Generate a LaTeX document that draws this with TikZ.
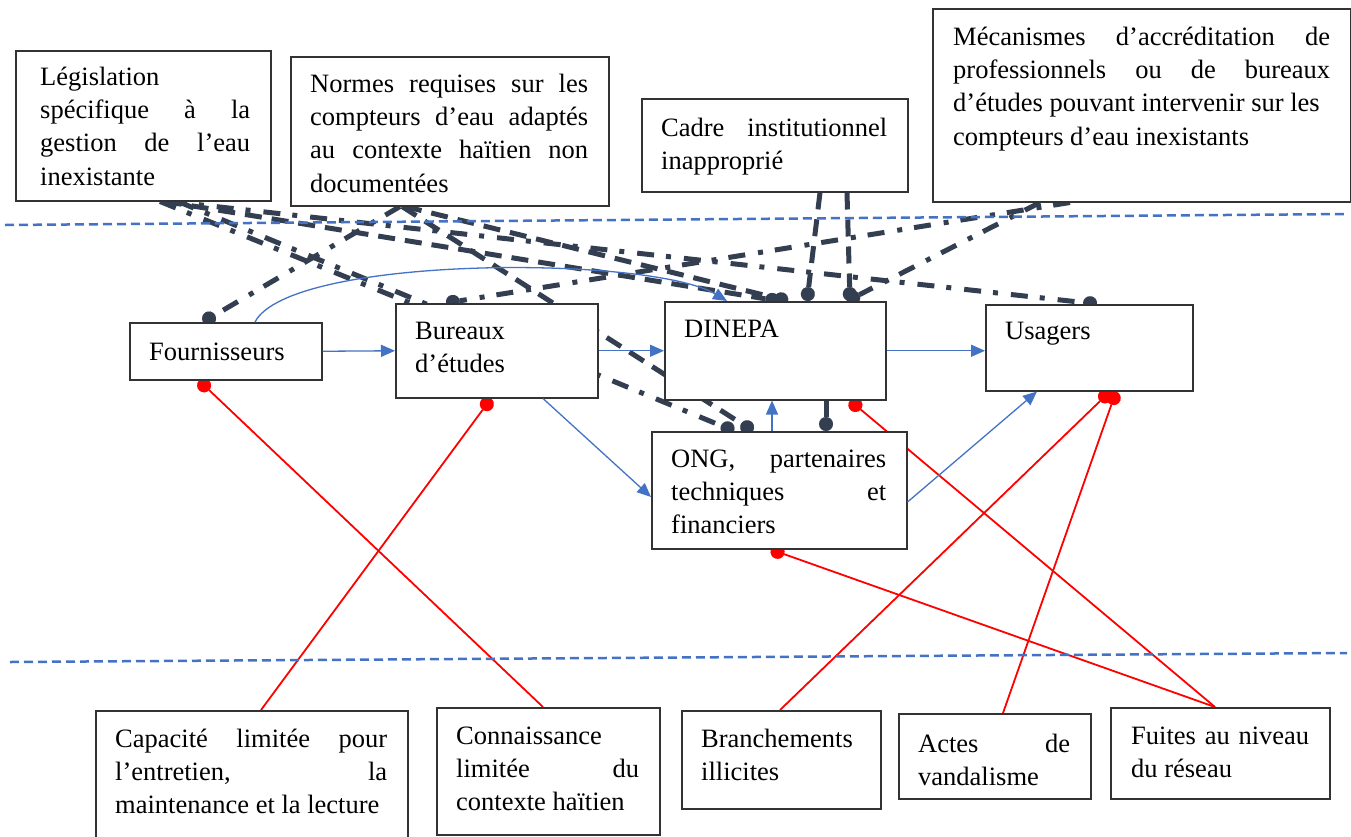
\documentclass[tikz,border=0pt]{standalone}
\usepackage{fontspec}
\setmainfont{Liberation Serif}
\newfontfamily\lserif{Liberation Serif}
\usetikzlibrary{arrows.meta,calc}
\pgfdeclarelayer{bg}
\pgfsetlayers{bg,main}
\definecolor{dk}{HTML}{333F50}
\definecolor{bl}{HTML}{4472C4}
\definecolor{rd}{HTML}{FF0000}
\newcommand\diagfont{\lserif\fontsize{26.5pt}{33.3pt}\selectfont}
\newcommand\jl[2]{{\spaceskip=0pt\xspaceskip=0pt\makebox[#1][s]{#2}}}
\newcommand\nl[1]{{\spaceskip=0pt\xspaceskip=0pt #1}}
\tikzset{
  box/.style={draw=black!80, line width=1.5pt, fill=white, inner sep=0pt, anchor=north west},
  txt/.style={inner sep=0pt, anchor=north west, font=\diagfont, align=left},
  dd/.style={draw=dk, line width=5pt, dash pattern=on 17pt off 12pt on 5pt off 13pt},
  ld/.style={draw=dk, line width=5pt, dash pattern=on 17pt off 10pt},
  dotend/.style={-{Circle[length=14pt,line width=0.1pt]}},
  rl/.style={draw=rd, line width=1.8pt, {Circle[length=14pt,line width=0.1pt]}-},
  ba/.style={draw=bl, line width=1.3pt, -{Triangle[length=14pt,width=12pt]}},
  sepline/.style={draw=bl, line width=2.5pt, dash pattern=on 9pt off 5pt},
}
\begin{document}
\begin{tikzpicture}[x=1pt,y=-1pt]
\path[use as bounding box] (0,0) rectangle (1351,836);
\begin{pgfonlayer}{bg}
\fill[white] (0,0) rectangle (1351,836);
\end{pgfonlayer}

% separators
\draw[sepline] (5,225) -- (1347,214);
\draw[sepline] (10,662) -- (1347,653);

% top boxes
\node[box, minimum width=255pt, minimum height=150pt] (leg) at (15,50) {};
\node[txt, text width=210pt] (legt) at (40,61.7) {\strut Législation\\\jl{210pt}{spécifique à la}\\\jl{210pt}{gestion de l’eau}\\inexistante};

\node[box, minimum width=318pt, minimum height=149pt] (norm) at (290,56) {};
\node[txt, text width=278pt] (normt) at (310,68.7) {\strut\jl{278pt}{Normes requises sur les}\\\jl{278pt}{compteurs d’eau adaptés}\\\jl{278pt}{au contexte haïtien non}\\documentées};

\node[box, minimum width=266pt, minimum height=93pt] (cad) at (641,98) {};
\node[txt, text width=226pt] (cadt) at (661,112.7) {\strut\jl{226pt}{Cadre institutionnel}\\inapproprié};

\node[box, minimum width=418pt, minimum height=193pt] (mec) at (932,8) {};
\node[txt, text width=377pt] (mect) at (953,21.7) {\strut\jl{377pt}{Mécanismes d’accréditation de}\\\jl{377pt}{professionnels ou de bureaux}\\\nl{d’études pouvant intervenir sur les}\\\nl{compteurs d’eau inexistants}};

% middle boxes
\node[box, minimum width=192pt, minimum height=57pt] (four) at (129,322) {};
\node[txt] (fourt) at (149,336.7) {\strut Fournisseurs};

\node[box, minimum width=202pt, minimum height=94pt] (bur) at (395,303) {};
\node[txt, text width=170pt] (burt) at (415,315.7) {\strut Bureaux\\d’études};

\node[box, minimum width=221pt, minimum height=98pt] (din) at (664,301) {};
\node[txt] (dint) at (684,313.7) {\strut DINEPA};

\node[box, minimum width=207pt, minimum height=86pt] (usa) at (985,304) {};
\node[txt] (usat) at (1005,315.7) {\strut Usagers};

\node[box, minimum width=255pt, minimum height=117pt] (ong) at (651,431) {};
\node[txt, text width=215pt] (ongt) at (671,443.7) {\strut\jl{215pt}{ONG, partenaires}\\\jl{215pt}{techniques et}\\financiers};

% bottom boxes
\node[box, minimum width=312pt, minimum height=132pt] (cap) at (95,710) {};
\node[txt, text width=272pt] (capt) at (115,723.7) {\strut\jl{272pt}{Capacité limitée pour}\\\jl{272pt}{l’entretien, la}\\\nl{maintenance et la lecture}};

\node[box, minimum width=223pt, minimum height=127pt] (conn) at (436,707) {};
\node[txt, text width=183pt] (connt) at (456,720.7) {\strut Connaissance\\\jl{183pt}{limitée du}\\\nl{contexte haïtien}};

\node[box, minimum width=199pt, minimum height=98pt] (bra) at (681,710) {};
\node[txt, text width=170pt] (brat) at (701,723.7) {\strut Branchements\\illicites};

\node[box, minimum width=192pt, minimum height=85pt] (act) at (898,713) {};
\node[txt, text width=152pt] (actt) at (918,728.7) {\strut\jl{152pt}{Actes de}\\vandalisme};

\node[box, minimum width=219pt, minimum height=91pt] (fui) at (1110,707) {};
\node[txt, text width=178pt] (fuit) at (1131,720.7) {\strut\jl{178pt}{Fuites au niveau}\\\nl{du réseau}};

% dark connectors (behind boxes)
\begin{pgfonlayer}{bg}
\draw[dd] ($(leg.south west)+(145,0)$) -- ($(bur.north west)+(15,0)$);
\draw[dd,dotend] ($(leg.south west)+(163,0)$) -- ($(ong.north west)+(83,0)$);
\draw[ld,dotend] ($(leg.south west)+(150,0)$) -- ($(din.north west)+(115,0)$);
\draw[dd,dotend] ($(leg.south west)+(155,0)$) -- ($(usa.north west)+(112,0)$);
\draw[dd,dotend] ($(norm.south west)+(110,0)$) -- ($(four.north west)+(74,0)$);
\draw[ld,dotend] ($(norm.south west)+(112,0)$) -- ($(ong.north west)+(102,0)$);
\draw[ld,dotend] ($(norm.south west)+(115,0)$) -- ($(din.north west)+(124,0)$);
\draw[ld,dotend] ($(cad.south west)+(179,0)$) -- ($(din.north west)+(143,0)$);
\draw[ld,dotend] ($(cad.south west)+(206,0)$) -- ($(din.north west)+(186,0)$);
\draw[dd,dotend] ($(mec.south west)+(138,0)$) -- ($(bur.north west)+(51,0)$);
\draw[dd,dotend] ($(mec.south west)+(108,0)$) -- ($(din.north west)+(183,0)$);
\draw[ld,dotend] ($(din.south west)+(162,0)$) -- ($(ong.north west)+(175,0)$);

% red connectors
\draw[rl] ($(four.south west)+(70,0)$) -- ($(conn.north west)+(107,0)$);
\draw[rl] ($(bur.south west)+(96,0)$) -- ($(cap.north west)+(166,0)$);
\draw[rl] ($(din.south west)+(186,0)$) -- ($(fui.north west)+(105,0)$);
\draw[rl] ($(ong.south west)+(120,0)$) -- ($(fui.north west)+(105,0)$);
\draw[rl] ($(usa.south west)+(125,0)$) -- ($(bra.north west)+(99,0)$);
\draw[rl] ($(usa.south west)+(131,0)$) -- ($(act.north west)+(105,0)$);
\end{pgfonlayer}

% blue arrows
\draw[ba] (four.east) -- (bur.west);
\draw[ba] (bur.east) -- (din.west);
\draw[ba] (din.east) -- (din.east -| usa.west);
\draw[ba] ($(bur.south west)+(148,0)$) -- ($(ong.north west)+(0,66)$);
\draw[ba] ($(ong.north west)+(121,0)$) -- ($(din.south west)+(108,0)$);
\draw[ba] ($(ong.north east)+(0,71)$) -- ($(usa.south west)+(52,0)$);
\draw[ba] ($(four.north west)+(126,0)$) .. controls +(35,-67) and +(-77,-46) .. ($(din.north west)+(63,0)$);
\end{tikzpicture}
\end{document}
